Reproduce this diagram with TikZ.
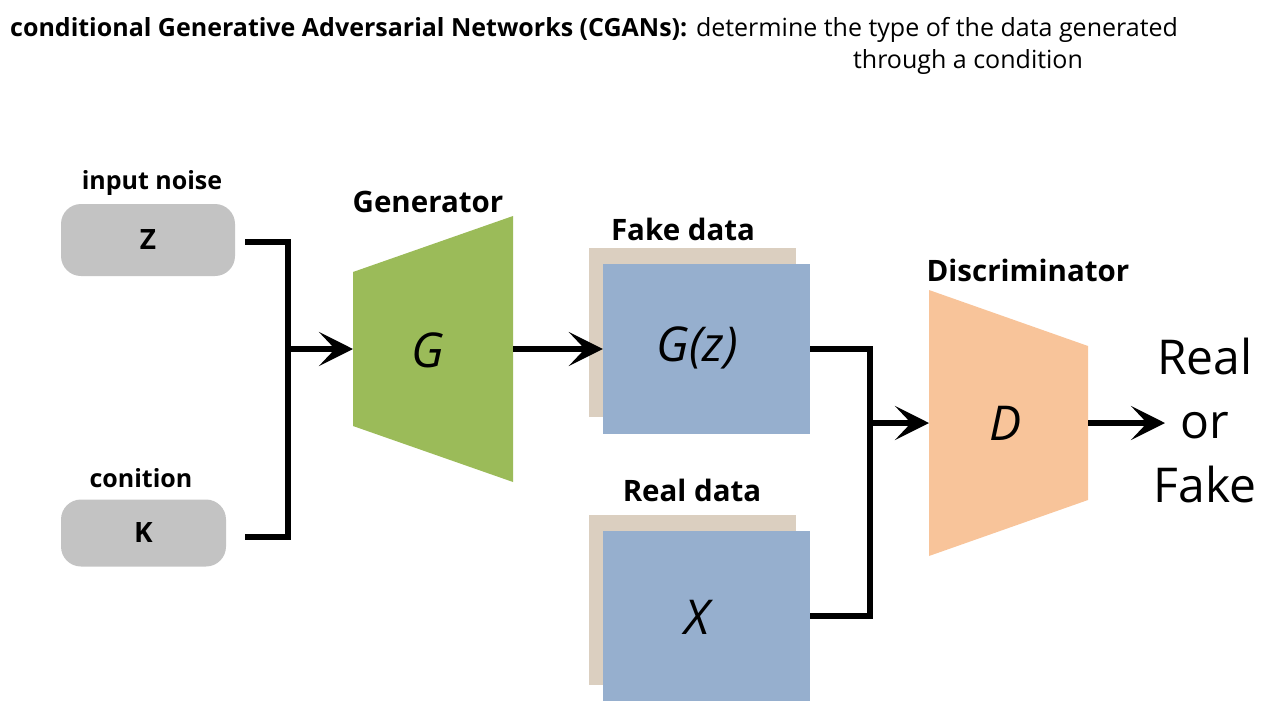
\documentclass[tikz,border=0pt]{standalone}
\usepackage{fontspec}
\setmainfont{Open Sans}
\usetikzlibrary{arrows.meta}
\definecolor{boxgray}{HTML}{C3C3C3}
\definecolor{gengreen}{HTML}{9BBB59}
\definecolor{backtan}{HTML}{DBCFC0}
\definecolor{datablue}{HTML}{96AFCE}
\definecolor{discorange}{HTML}{F8C49A}
\newcommand{\fs}[1]{\fontsize{#1}{#1}\selectfont}
\begin{document}
\begin{tikzpicture}[x=1pt,y=-1pt,
  conn/.style={line width=6pt},
  arr/.style={line width=6pt,-{Stealth[length=34pt,width=34pt,inset=16pt]}},
  inbox/.style={fill=boxgray,rounded corners=20pt,inner sep=0pt,font=\fs{28}\bfseries},
  lab/.style={font=\fs{29.5}\bfseries,inner sep=0pt},
  slab/.style={font=\fs{25}\bfseries,inner sep=0pt},
  backrect/.style={fill=backtan,draw=none},
  datarect/.style={fill=datablue,minimum width=207pt,minimum height=170pt,inner sep=0pt},
  sym/.style={font=\fs{48}\itshape,inner sep=0pt}]
\useasboundingbox (0,0) rectangle (1280,720);
% title
\node[anchor=base west,inner sep=0pt,font=\fs{25}] (t1) at (10,36)
  {\textbf{conditional Generative Adversarial Networks (CGANs):} determine the type of the data generated};
\node[anchor=base,inner sep=0pt,font=\fs{25}] (t2) at (968,68) {through a condition};
% inputs
\node[inbox,minimum width=174pt,minimum height=72pt] (z) at (148,240) {Z};
\node[inbox,minimum width=165pt,minimum height=67pt] (k) at (143.5,533) {K};
\node[slab] (ln) at (152,183) {input noise};
\node[slab] (lc) at (141,478) {conition};
% generator
\fill[gengreen] (353,272) -- (513,216) -- (513,482) -- (353,426) -- cycle;
\coordinate (gl) at (353,349);
\coordinate (gr) at (513,349);
\node[sym] (g) at (428,350) {G};
\node[lab] (lg) at (428,202) {Generator};
% fake data
\fill[backtan] (589,248) rectangle (796,417);
\node[datarect] (fake) at (706.5,349) {};
\node[sym] (gz) at (697,348) {G(z)};
\node[lab] (lf) at (683,229) {Fake data};
% real data
\fill[backtan] (589,515) rectangle (796,685);
\node[datarect] (real) at (706.5,616) {};
\node[sym] (x) at (697,617) {X};
\node[lab] (lr) at (692,490) {Real data};
% discriminator
\fill[discorange] (929,290) -- (1088,346) -- (1088,500) -- (929,556) -- cycle;
\coordinate (dl) at (929,423);
\coordinate (dr) at (1088,423);
\node[sym] (d) at (1006,423) {D};
\node[lab] (ld) at (1028,270) {Discriminator};
% output
\node[align=center,font=\fs{48},inner sep=0pt] (out) at (1205,420) {Real\\[16pt]or\\[16pt]Fake};
\coordinate (rf) at (1165,423);
% connectors
\coordinate (zo) at (245,242);
\coordinate (ko) at (245,537);
\coordinate (j1) at (288,349);
\coordinate (j2) at (870,423);
\draw[conn] (zo) -| (j1) |- (ko);
\draw[arr] (j1) -- (gl);
\draw[arr] (gr) -- (fake.west);
\draw[conn] (fake.east) -| (j2) |- (real.east);
\draw[arr] (j2) -- (dl);
\draw[arr] (dr) -- (rf);
\end{tikzpicture}
\end{document}
